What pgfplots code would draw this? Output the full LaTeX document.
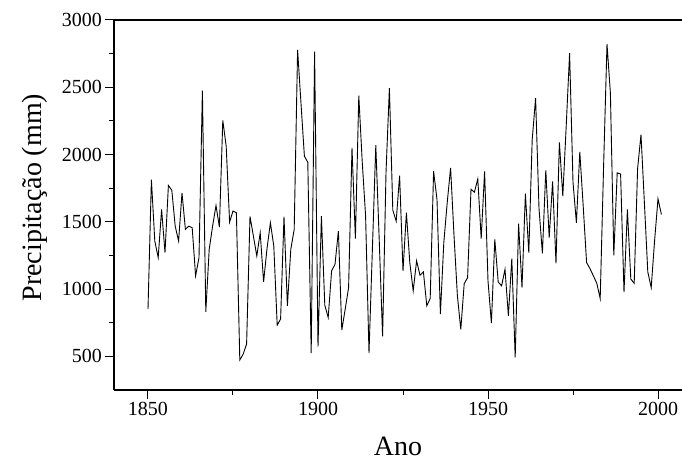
\documentclass[border=0pt]{standalone}
\usepackage{fontspec}
\setmainfont{Liberation Serif}
\usepackage{pgfplots}
\pgfplotsset{compat=1.18}
\pgfplotstableread{
year val
1850 851
1851 1814
1852 1357
1853 1234
1854 1592
1855 1271
1856 1770
1857 1735
1858 1468
1859 1357
1860 1715
1861 1444
1862 1468
1863 1456
1864 1098
1865 1234
1866 2475
1867 831
1868 1295
1869 1468
1870 1621
1871 1461
1872 2254
1873 2061
1874 1498
1875 1580
1876 1567
1877 473
1878 517
1879 591
1880 1540
1881 1394
1882 1246
1883 1419
1884 1053
1885 1300
1886 1493
1887 1320
1888 732
1889 777
1890 1538
1891 876
1892 1296
1893 1444
1894 2778
1895 2380
1896 1987
1897 1943
1898 525
1899 2765
1900 572
1901 1543
1902 880
1903 789
1904 1135
1905 1184
1906 1431
1907 695
1908 851
1909 1011
1910 2049
1911 1375
1912 2437
1913 1950
1914 1543
1915 525
1916 1300
1917 2069
1918 1370
1919 648
1920 1864
1921 2494
1922 1587
1923 1505
1924 1844
1925 1135
1926 1568
1927 1197
1928 987
1929 1210
1930 1103
1931 1128
1932 876
1933 930
1934 1876
1935 1666
1936 814
1937 1345
1938 1641
1939 1901
1940 1400
1941 950
1942 700
1943 1040
1944 1085
1945 1742
1946 1720
1947 1819
1948 1375
1949 1874
1950 1061
1951 747
1952 1370
1953 1053
1954 1024
1955 1147
1956 801
1957 1226
1958 493
1959 1486
1960 1011
1961 1710
1962 1271
1963 2111
1964 2419
1965 1600
1966 1266
1967 1883
1968 1382
1969 1800
1970 1192
1971 2091
1972 1691
1973 2210
1974 2753
1975 1795
1976 1493
1977 2020
1978 1617
1979 1197
1980 1152
1981 1098
1982 1043
1983 930
1984 1913
1985 2822
1986 2457
1987 1251
1988 1864
1989 1855
1990 977
1991 1592
1992 1075
1993 1043
1994 1895
1995 2148
1996 1641
1997 1128
1998 1011
1999 1360
2000 1671
2001 1555
}\precip
\begin{document}
\begin{tikzpicture}
\begin{axis}[
  name=ax,
  scale only axis,
  width=568bp, height=370bp,
  xmin=1840, xmax=2007.06,
  ymin=250, ymax=3000,
  clip=false,
  axis x line*=bottom, axis y line*=left,
  axis line style={line width=1.1bp, black},
  xtick={1850,1900,1950,2000},
  minor xtick={1875,1925,1975},
  ytick={500,1000,1500,2000,2500,3000},
  minor ytick={750,1250,1750,2250,2750},
  tick align=outside,
  major tick length=8.5bp, minor tick length=4.5bp,
  every tick/.style={black, line width=1bp},
  ticklabel style={font=\fontsize{20bp}{24bp}\selectfont},
  /pgf/number format/assume math mode=true,
  /pgf/number format/1000 sep={},
  xlabel={Ano}, ylabel={Precipitação (mm)},
  label style={font=\fontsize{28bp}{32bp}\selectfont},
  xlabel style={at={(axis description cs:0.5,-0.177)}, anchor=base},
  ylabel style={at={(axis description cs:-0.1268,0.52)}, anchor=base},
]
\addplot[black, line width=0.9bp, mark=none] table[x=year, y=val] {\precip};
\draw[line width=1.1bp] (rel axis cs:0,1) -- (rel axis cs:1,1);
\end{axis}
\pgfresetboundingbox
\path ([xshift=-114bp,yshift=-71bp]ax.south west) rectangle ([yshift=20bp]ax.north east);
\end{tikzpicture}
\end{document}
